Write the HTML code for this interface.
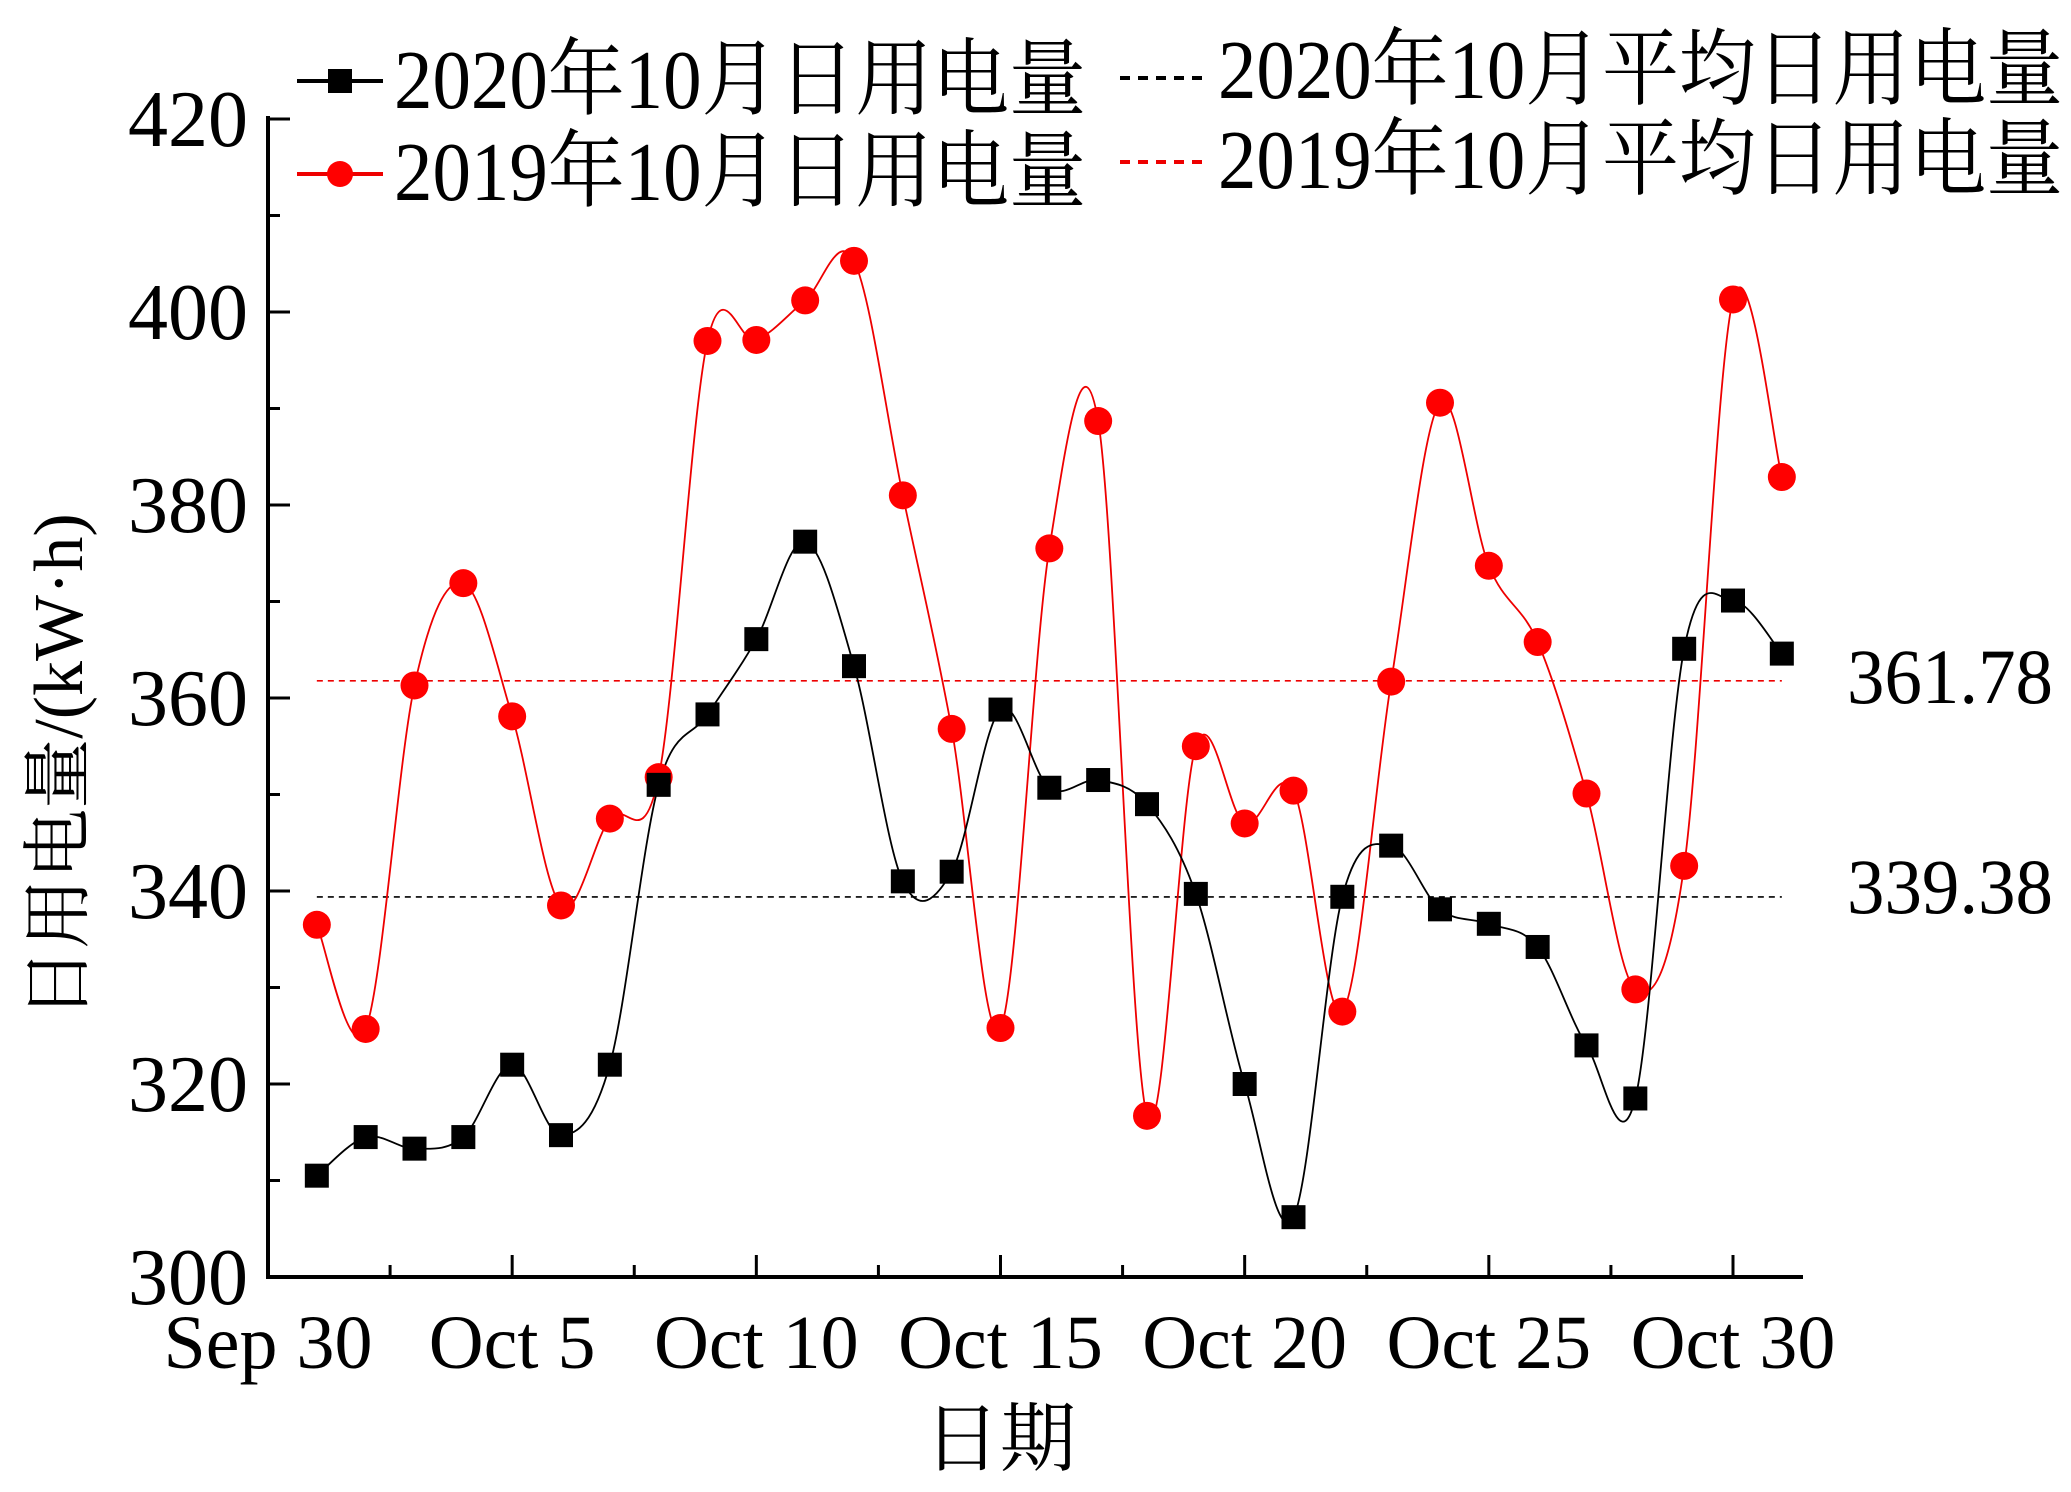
<!DOCTYPE html>
<html><head><meta charset="utf-8"><style>
html,body{margin:0;padding:0;background:#fff}
svg{display:block}
text{font-family:"Liberation Serif","Noto Serif CJK SC",serif;fill:#000}
</style></head><body>
<svg id="chart" width="2071" height="1492" viewBox="0 0 2071 1492" xmlns="http://www.w3.org/2000/svg">
<g id="axes"></g><g id="series"></g><g id="legend"></g>
</svg>
<script>
const days = ["Oct 1","Oct 2","Oct 3","Oct 4","Oct 5","Oct 6","Oct 7","Oct 8","Oct 9","Oct 10","Oct 11","Oct 12","Oct 13","Oct 14","Oct 15","Oct 16","Oct 17","Oct 18","Oct 19","Oct 20","Oct 21","Oct 22","Oct 23","Oct 24","Oct 25","Oct 26","Oct 27","Oct 28","Oct 29","Oct 30","Oct 31"];
const usage2020 = [310.5,314.5,313.3,314.5,322,314.7,322,351,358.3,366.1,376.2,363.3,341,342,358.8,350.7,351.5,349,339.7,320,306.2,339.4,344.7,338.1,336.6,334.2,324,318.5,365.1,370.1,364.6];
const usage2019 = [336.5,325.7,361.3,371.9,358.1,338.5,347.5,351.8,397,397.1,401.2,405.3,381,356.8,325.8,375.5,388.7,316.7,355,347,350.4,327.5,361.7,390.6,373.7,365.8,350.1,329.8,342.6,401.3,382.9];
const avg2020 = 339.38;
const avg2019 = 361.78;
const yTicks = [300,320,340,360,380,400,420];
const xTickLabels = ["Sep 30","Oct 5","Oct 10","Oct 15","Oct 20","Oct 25","Oct 30"];
const xTickDay = [0,5,10,15,20,25,30];

const NS="http://www.w3.org/2000/svg";
const FF='"Liberation Serif","Noto Serif CJK SC",serif';
const L=268,R=1803,T=119,B=1277;
const DX=(1733-268)/30;
const XD=d=>L+d*DX;          // d = days since Sep 30
const X=i=>XD(i+1);          // data index 0 = Oct 1
const Y=v=>B-(v-300)/120*(B-T);
function mk(tag,attrs,parent){const e=document.createElementNS(NS,tag);for(const k in attrs)e.setAttribute(k,attrs[k]);if(tag==='text')e.setAttribute('font-family',FF);parent.appendChild(e);return e;}
const axes=document.getElementById('axes'),ser=document.getElementById('series'),leg=document.getElementById('legend');

let a=mk('path',{d:`M${L},${T-3} V${B} H${R}`,fill:'none',stroke:'#000','stroke-width':4},axes);


yTicks.forEach((v,i)=>{
  let t=mk('line',{x1:L,x2:L+22,y1:Y(v),y2:Y(v),stroke:'#000','stroke-width':3},axes);
  
  
  if(i<yTicks.length-1){let m=mk('line',{x1:L,x2:L+12,y1:Y(v+10),y2:Y(v+10),stroke:'#000','stroke-width':3},axes);
  
  }
  let tx=mk('text',{x:L-20,y:Y(v)+27,'text-anchor':'end','font-size':80},axes);tx.textContent=v;
  
  
});
for(let k=1;k<=12;k++){
  const xi=XD(k*2.5);const major=k%2===0;
  let t=mk('line',{x1:xi,x2:xi,y1:B,y2:B-(major?22:12),stroke:'#000','stroke-width':3},axes);
  
  
}
xTickLabels.forEach((s,i)=>{
  let tx=mk('text',{x:XD(xTickDay[i]),y:1368,'text-anchor':'middle','font-size':76},axes);tx.textContent=s;
  
  
});
let xt=mk('text',{x:1000,y:1465,'text-anchor':'middle','font-size':76},axes);xt.textContent='日期';


let yt=mk('text',{x:0,y:0,'text-anchor':'middle','font-size':70,transform:'translate(82,766) rotate(-90)'},axes);yt.textContent='日用电量/(kW·h)';



[[avg2020,'#000','avg-line-2020',913],[avg2019,'#e00','avg-line-2019',703]].forEach(([v,c,n,by])=>{
  let l=mk('line',{x1:X(0),x2:X(usage2020.length-1),y1:Y(v),y2:Y(v),stroke:c,'stroke-width':1.6,'stroke-dasharray':'6,5'},ser);
  
  
  let tx=mk('text',{x:1847,y:by,'font-size':78,textLength:206,lengthAdjust:'spacingAndGlyphs'},ser);tx.textContent=v.toFixed(2);
  
  
});

function spline(vals){
  const p=vals.map((v,i)=>[X(i),Y(v)]);let d=`M${p[0][0]},${p[0][1]}`;
  for(let i=0;i<p.length-1;i++){
    const p0=p[Math.max(0,i-1)],p1=p[i],p2=p[i+1],p3=p[Math.min(p.length-1,i+2)];
    const c1=[p1[0]+(p2[0]-p0[0])/6,p1[1]+(p2[1]-p0[1])/6],c2=[p2[0]-(p3[0]-p1[0])/6,p2[1]-(p3[1]-p1[1])/6];
    d+=` C${c1[0]},${c1[1]} ${c2[0]},${c2[1]} ${p2[0]},${p2[1]}`;
  }return d;
}
let l19=mk('path',{d:spline(usage2019),fill:'none',stroke:'#e00','stroke-width':1.8},ser);


let l20=mk('path',{d:spline(usage2020),fill:'none',stroke:'#000','stroke-width':1.8},ser);


usage2019.forEach((v,i)=>{
  let c=mk('circle',{cx:X(i),cy:Y(v),r:14,fill:'#f00'},ser);
  
  
});
usage2020.forEach((v,i)=>{
  let r=mk('rect',{x:X(i)-12,y:Y(v)-12,width:24,height:24,fill:'#000'},ser);
  
  
});

function legendText(x,y,s,w,name){let t=mk('text',{x:x,y:y,'font-size':84,textLength:w,lengthAdjust:'spacingAndGlyphs'},leg);t.textContent=s;
  
  }
let g1=mk('line',{x1:297,x2:383,y1:81,y2:81,stroke:'#000','stroke-width':4},leg);


let g1m=mk('rect',{x:328,y:69,width:24,height:24,fill:'#000'},leg);


legendText(394,108,'2020年10月日用电量',692,'legend-label-2020');
let g2=mk('line',{x1:297,x2:383,y1:174,y2:174,stroke:'#e00','stroke-width':4},leg);


let g2m=mk('circle',{cx:340,cy:174,r:13,fill:'#f00'},leg);


legendText(394,200,'2019年10月日用电量',692,'legend-label-2019');
let g3=mk('line',{x1:1120,x2:1202,y1:78,y2:78,stroke:'#000','stroke-width':4,'stroke-dasharray':'10,8'},leg);


legendText(1218,98,'2020年10月平均日用电量',845,'legend-label-avg-2020');
let g4=mk('line',{x1:1120,x2:1202,y1:162,y2:162,stroke:'#e00','stroke-width':4,'stroke-dasharray':'10,8'},leg);


legendText(1218,188,'2019年10月平均日用电量',845,'legend-label-avg-2019');
</script>
</body></html>
